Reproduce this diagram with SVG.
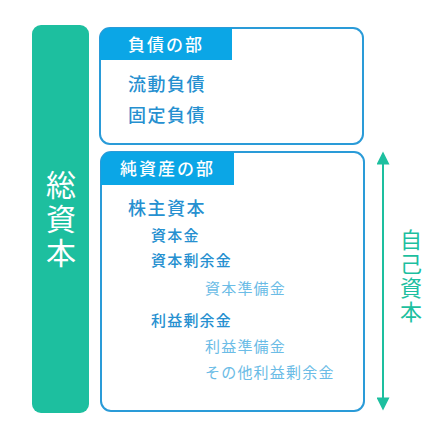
<svg xmlns="http://www.w3.org/2000/svg" width="447" height="438" viewBox="0 0 447 438">
<defs>
<style>
text{font-family:"Noto Sans CJK JP","Noto Sans CJK SC",sans-serif;}
.box{fill:#fff;stroke:#2a9bd8;stroke-width:2;}
.hdr{fill:#0ba6e6;}
.ht{fill:#fff;font-size:17px;font-weight:500;letter-spacing:2px;}
.t1{fill:#2690d0;font-size:18px;font-weight:500;letter-spacing:1.5px;}
.t2{fill:#2690d0;font-size:15px;font-weight:500;letter-spacing:1.2px;}
.t3{fill:#6bbce6;font-size:15px;letter-spacing:1.2px;}
.gr{fill:#1dbf9f;}
.vt{writing-mode:vertical-rl;}
</style>
<marker id="ah" viewBox="0 0 10 10" refX="5" refY="5" markerWidth="15" markerHeight="13" markerUnits="userSpaceOnUse" orient="auto-start-reverse">
<path d="M0,0 L10,5 L0,10 Z" fill="#1dbf9f"/>
</marker>
</defs>
<rect width="447" height="438" fill="#fff"/>
<g id="total">
<rect class="gr" x="32" y="25" width="57" height="388" rx="9"/>
<text class="vt" x="61" y="170" fill="#fff" font-size="30" letter-spacing="4">総資本</text>
</g>
<g id="liabilities">
<rect class="box" x="100" y="28" width="263" height="116" rx="10"/>
<path class="hdr" d="M100,38 a10,10 0 0 1 10,-10 H232 V60 H100 Z"/>
<text class="ht" x="128" y="51">負債の部</text>
<text class="t1" x="128" y="91">流動負債</text>
<text class="t1" x="128" y="122">固定負債</text>
</g>
<g id="equity">
<rect class="box" x="101" y="152" width="263" height="259" rx="10"/>
<path class="hdr" d="M101,162 a10,10 0 0 1 10,-10 H234 V185 H101 Z"/>
<text class="ht" x="120" y="175">純資産の部</text>
<text class="t1" x="128" y="215">株主資本</text>
<text class="t2" x="151" y="241">資本金</text>
<text class="t2" x="151" y="266">資本剰余金</text>
<text class="t3" x="205" y="294">資本準備金</text>
<text class="t2" x="151" y="326">利益剰余金</text>
<text class="t3" x="205" y="352">利益準備金</text>
<text class="t3" x="205" y="378">その他利益剰余金</text>
</g>
<g id="connectors">
<line x1="383" y1="158" x2="383" y2="404" stroke="#1dbf9f" stroke-width="2" marker-start="url(#ah)" marker-end="url(#ah)"/>
</g>
<g id="owncapital">
<text class="vt" x="411" y="229" fill="#1dbf9f" font-size="22" letter-spacing="2">自己資本</text>
</g>
</svg>
